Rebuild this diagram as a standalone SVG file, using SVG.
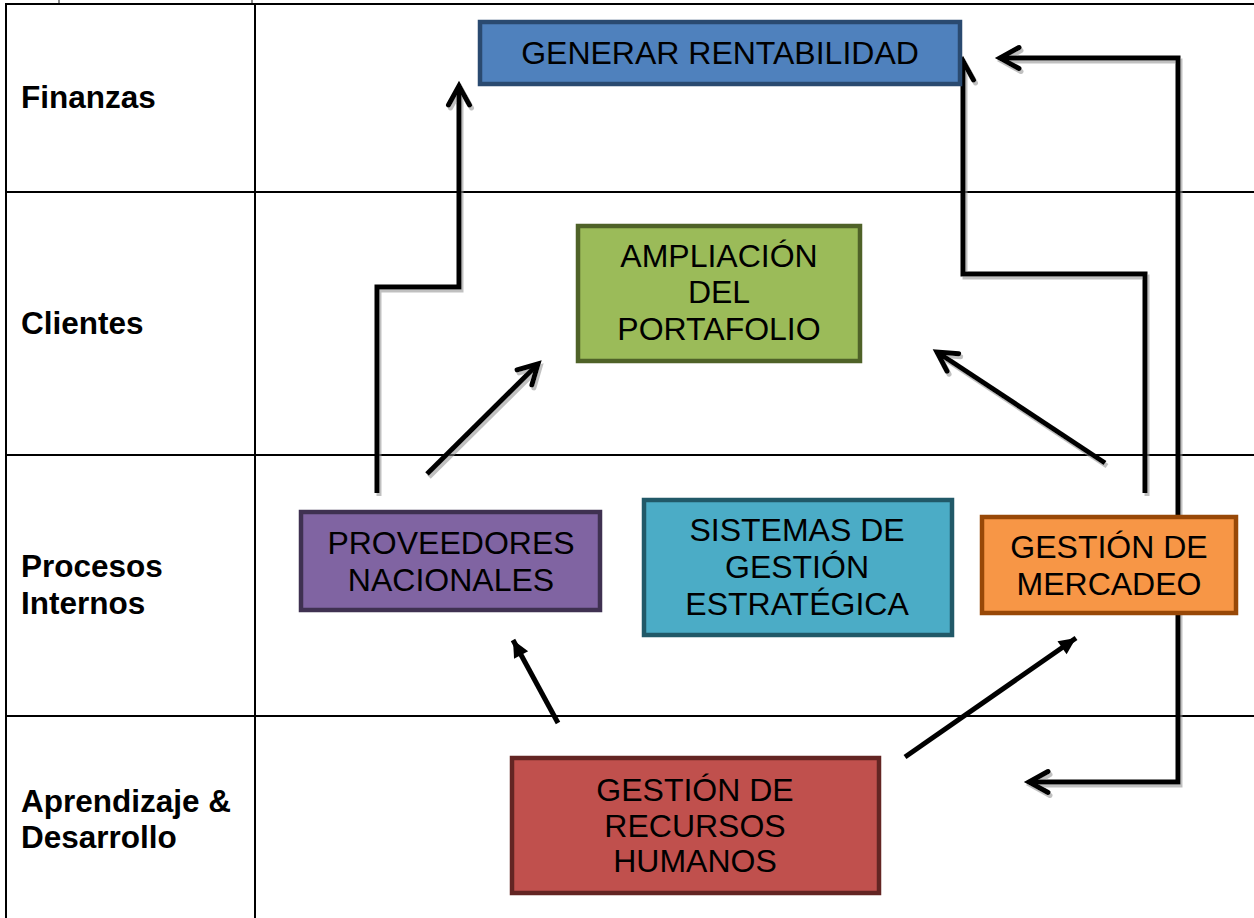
<svg xmlns="http://www.w3.org/2000/svg" width="1254" height="918" viewBox="0 0 1254 918">
<style>
.grid{stroke:#000;stroke-width:2;fill:none}
.lbl{font-family:"Liberation Sans",Arial,sans-serif;font-weight:bold;font-size:31.5px;fill:#000}
.nt{font-family:"Liberation Sans",Arial,sans-serif;font-size:32px;fill:#000;text-anchor:middle}
.box{stroke-width:4.5}
.c{stroke:#000;stroke-width:5;fill:none;stroke-linejoin:miter}
.cs{filter:url(#sh)}
.ca{marker-end:url(#chev)}
.cb{marker-start:url(#chevS);marker-end:url(#chev)}
.ct{marker-end:url(#tri)}
</style>
<defs>
<filter id="sh" x="-20%" y="-20%" width="140%" height="140%">
<feDropShadow dx="2" dy="3" stdDeviation="0.7" flood-color="#8c8c8c" flood-opacity="0.55"/>
</filter>
<marker id="chev" markerUnits="userSpaceOnUse" viewBox="-24 -14 30 28" refX="0" refY="0" markerWidth="30" markerHeight="28" orient="auto">
<path d="M-19,-10.5 L0,0 L-19,10.5" fill="none" stroke="#000" stroke-width="5" stroke-linecap="round" stroke-linejoin="miter"/>
</marker>
<marker id="chevS" markerUnits="userSpaceOnUse" viewBox="-6 -14 30 28" refX="0" refY="0" markerWidth="30" markerHeight="28" orient="auto">
<path d="M19,-10.5 L0,0 L19,10.5" fill="none" stroke="#000" stroke-width="5" stroke-linecap="round" stroke-linejoin="miter"/>
</marker>
<marker id="tri" markerUnits="userSpaceOnUse" viewBox="-20 -10 22 20" refX="0" refY="0" markerWidth="22" markerHeight="20" orient="auto">
<path d="M0,0 L-17,-8 L-17,8 Z" fill="#000"/>
</marker>
</defs>
<rect width="1254" height="918" fill="#fff"/>
<g id="table">
<line x1="59" y1="0" x2="59" y2="4" stroke="#666" stroke-width="1.5"/>
<line x1="252" y1="0" x2="252" y2="4" stroke="#666" stroke-width="1.5"/>
<line class="grid" x1="5" y1="4" x2="1254" y2="4"/>
<line class="grid" x1="6" y1="4" x2="6" y2="918"/>
<line class="grid" x1="255" y1="4" x2="255" y2="918"/>
<line class="grid" x1="6" y1="192" x2="1254" y2="192"/>
<line class="grid" x1="6" y1="455" x2="1254" y2="455"/>
<line class="grid" x1="6" y1="716" x2="1254" y2="716"/>
<text class="lbl" x="21" y="108">Finanzas</text>
<text class="lbl" x="21" y="334">Clientes</text>
<text class="lbl" x="21" y="577">Procesos</text>
<text class="lbl" x="21" y="614">Internos</text>
<text class="lbl" x="21" y="812">Aprendizaje &amp;</text>
<text class="lbl" x="21" y="848">Desarrollo</text>
</g>
<g id="connectors">
<polyline class="c cs ca" points="377,493 377,287 459,287 459,86"/>
<line class="c cs ca" x1="718" y1="210" x2="718" y2="115"/>
<polyline class="c cs ca" points="1145,493 1145,274 963,274 963,61"/>
<polyline class="c cs cb" points="1000,58 1178,58 1178,782 1029,782"/>
<line class="c cs ca" x1="427" y1="474" x2="538" y2="364"/>
<line class="c cs ca" x1="782" y1="460" x2="782" y2="386"/>
<line class="c cs ca" x1="1105" y1="463" x2="937" y2="352"/>
<line class="c ct" x1="558" y1="723" x2="513" y2="640"/>
<line class="c cs ca" x1="794" y1="722" x2="794" y2="643"/>
<line class="c ct" x1="905" y1="757" x2="1076" y2="638"/>
</g>
<g id="generar">
<rect class="box" x="480" y="22" width="480" height="62" fill="#4f81bd" stroke="#2a4a70"/>
<text class="nt" x="720" y="64">GENERAR RENTABILIDAD</text>
</g>
<g id="ampliacion">
<rect class="box" x="578" y="226" width="282" height="135" fill="#9bbb59" stroke="#4f6228"/>
<text class="nt" x="719" y="267">AMPLIACIÓN</text>
<text class="nt" x="719" y="303">DEL</text>
<text class="nt" x="719" y="340">PORTAFOLIO</text>
</g>
<g id="proveedores">
<rect class="box" x="301" y="512" width="299" height="98" fill="#8064a2" stroke="#3f3151"/>
<text class="nt" x="451" y="554">PROVEEDORES</text>
<text class="nt" x="451" y="591">NACIONALES</text>
</g>
<g id="sistemas">
<rect class="box" x="644" y="500" width="308" height="135" fill="#4bacc6" stroke="#215968"/>
<text class="nt" x="797" y="541">SISTEMAS DE</text>
<text class="nt" x="797" y="578">GESTIÓN</text>
<text class="nt" x="797" y="615">ESTRATÉGICA</text>
</g>
<g id="mercadeo">
<rect class="box" x="982" y="517" width="254" height="96" fill="#f79646" stroke="#984807"/>
<text class="nt" x="1109" y="558">GESTIÓN DE</text>
<text class="nt" x="1109" y="595">MERCADEO</text>
</g>
<g id="rrhh">
<rect class="box" x="512" y="758" width="367" height="135" fill="#c0504d" stroke="#632523"/>
<text class="nt" x="695" y="801">GESTIÓN DE</text>
<text class="nt" x="695" y="837">RECURSOS</text>
<text class="nt" x="695" y="872">HUMANOS</text>
</g>
</svg>
